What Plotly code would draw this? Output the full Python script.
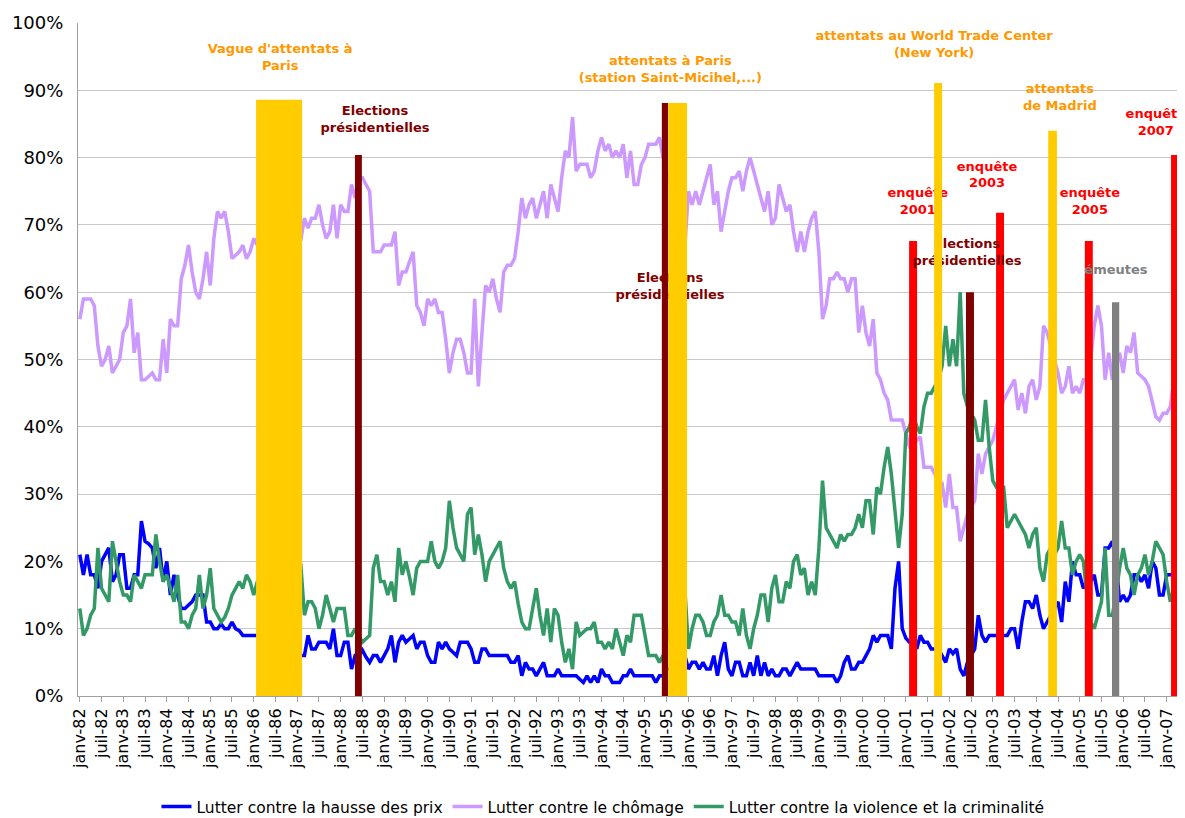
import plotly.graph_objects as go

# ---------------- data (monthly, janv-82 .. mai-07) ----------------
prix = [
    21, 18, 21, 18, 18, 16, 20, 21, 22, 17,
    18, 21, 21, 16, 16, 18, 18, 26, 23, 22.6,
    22, 19, 22, 17, 20, 15, 18, 15, 13, 13,
    13.5, 14, 15, 15, 15, 11, 11, 10, 10, 10.7,
    10, 10, 11, 10, 9.7, 9, 9, 9, 9, 9,
    9, 9, 9, 8, 8, 8, 8, 7, 7, 7,
    6, 6, 6, 9, 7, 7, 8, 8, 8, 7,
    10, 6, 6, 8, 8, 4, 6, 6, 6.8, 5.8,
    5, 6, 6, 5, 6, 7, 9, 5, 8, 9,
    8, 8.5, 9, 7, 8, 8, 6, 5, 5, 8,
    7, 8, 7, 6.5, 6, 8, 8, 8, 7, 5,
    5, 7, 7, 6, 6, 6, 6, 6, 6, 5,
    5, 6, 3, 5, 4, 4, 3, 4, 5, 3,
    3, 3, 4, 3, 3, 3, 3, 3, 2.5, 2,
    3, 2, 3, 2, 4, 3, 3, 2, 2, 2,
    3, 3, 4, 3, 3, 3, 3, 3, 3, 2,
    3, 3, 4, 4, 5, 5, 6, 6, 4, 5,
    5, 4, 5, 4, 4, 6, 3, 6, 8, 4,
    3, 5, 5, 3, 3, 5, 3, 6, 3, 5,
    3, 4, 3, 3, 4, 4, 3, 4, 5, 4,
    4, 4, 4, 4, 3, 3, 3, 3, 3, 2,
    3, 5, 6, 4, 4, 5, 5, 6, 7, 9,
    8, 9, 9, 9, 7, 16, 20, 10, 8.6, 8,
    8, 7, 9, 8, 8, 7, 7, 7, 6, 5,
    7, 6.3, 7, 4, 3, 5, 6, 7, 12, 9,
    8, 9, 9, 9, 9, 9, 9, 10, 10, 7,
    11, 14, 14, 13, 15, 12, 10, 11, 12, 13,
    14, 11, 17, 14, 20, 18, 18, 16, 17, 17,
    18, 15, 15, 22, 22, 23, 20, 14, 15, 14,
    15, 18, 18, 17, 18, 16, 20, 19, 15, 15,
    18, 18, 18, 18, 19,
]

chomage = [
    56, 59, 59, 59, 58, 52, 49, 50, 52, 48,
    49, 50, 54, 55, 59, 51, 54, 47, 47, 47.5,
    48, 47, 47, 53, 48, 56, 55, 55, 62, 64,
    67, 63, 60, 59, 62, 66, 61, 68, 72, 71,
    72, 69, 65, 65.5, 66, 67, 65, 66, 68, 67,
    66, 68, 67, 69, 68, 67, 66, 68, 67, 68,
    67, 67.7, 71, 69.5, 71, 71, 73, 70, 68, 69,
    73, 68, 73, 72, 72, 76, 74, 77, 77, 76,
    75, 66, 66, 66, 67, 67, 67, 69, 61, 63,
    63, 64.5, 66, 58, 57, 55, 59, 58, 59, 57,
    57, 53, 48, 51, 53, 53, 51, 48, 48, 59,
    46, 54, 61, 60, 62, 59, 57, 63, 64, 64,
    65, 69, 74, 71, 73, 74, 71, 73, 75, 71,
    76, 74, 72, 77, 81, 80, 86, 78, 79, 79,
    79, 77, 78, 81, 83, 81, 82, 80, 81, 80,
    82, 77, 81, 76, 76, 79, 80, 82, 82, 82,
    83, 80, 78, 76, 74, 72, 70, 66.7, 75, 73,
    75, 73, 75, 77, 79, 73, 75, 69, 72, 75,
    77, 77, 78, 75, 78, 80, 78, 76, 74, 72,
    75, 70, 71, 76, 74, 72, 73, 69, 66, 69,
    66, 69, 71, 72, 66, 56, 58, 62, 62, 63,
    62, 62, 60, 62, 62, 54, 58, 54, 52, 56,
    48, 47, 45, 44, 41, 41, 41, 41, 39, 37,
    37, 38, 38.5, 34, 34, 34, 33, 32, 31.6, 28,
    33, 28, 28, 23, 25, 27, 28, 29, 36, 33,
    36, 37, 38, 40, 42, 44, 45, 46, 47, 42.5,
    45, 42, 46, 47, 44, 46, 55, 54, 52, 50,
    48, 45, 46, 49, 45, 46, 45, 47, 47, 50,
    55, 58, 55, 47, 51, 47, 49, 51, 48, 52,
    51, 54, 48, 47.5, 47, 46, 44, 41.5, 41, 42,
    42, 43, 47, 45, 41,
]

violence = [
    13, 9, 10, 12, 13, 22, 16, 15, 14, 23,
    20, 17, 15, 15, 14, 18, 17, 16, 18, 18,
    18, 24, 20, 17, 18, 16, 14, 18, 11, 11,
    10, 12, 13, 18, 13, 15, 19, 13, 12, 11,
    11.7, 13, 15, 16, 17, 16, 18, 17, 15, 17,
    18, 17, 16, 17, 18, 17, 16, 17, 18, 19,
    20, 19.5, 12, 14, 14, 13, 10, 12, 15, 13,
    11, 13, 13, 13, 9, 9, 10, 9, 8, 8.5,
    9, 19, 21, 17, 17, 15, 17, 14, 22, 18,
    20, 17.7, 15, 19, 20, 20, 20, 23, 20, 19,
    20, 22, 29, 25, 22, 21, 20, 27, 28, 21,
    24, 21, 17, 20, 21, 22, 23, 19, 17, 16,
    17, 13.7, 11, 10, 10, 13, 16, 12, 9, 13,
    8, 13, 12, 8, 5, 7, 4, 11, 9, 9.5,
    10, 10, 11, 8, 8, 7, 8, 7, 10, 8,
    6, 9, 8, 12, 12, 12, 9, 6, 6, 6,
    5, 6, 8, 10, 12, 14, 15, 16, 7, 10,
    12, 12, 11, 9, 9, 11, 12, 15, 12, 12,
    11, 11, 9, 13, 9, 7, 10, 12, 15, 15,
    11, 16, 18, 14, 14, 17, 16, 20, 21, 18,
    19, 15, 17, 15, 22, 32, 25, 24, 23, 22,
    24, 23, 24, 24, 25, 27, 25, 29, 29, 24,
    31, 30, 34, 37, 33, 27, 22, 27, 39, 40,
    42, 40, 39, 43, 45, 45, 46, 47, 49, 55,
    49, 53, 49, 60, 45, 43, 42, 41, 38, 38,
    44, 37, 32, 31, 31, 31, 25, 26, 27, 26,
    25, 24, 22, 24, 25, 19, 17, 21, 22, 21,
    22, 26, 22, 22, 18, 20, 21, 20, 15, 11,
    10, 12, 14, 22, 12, 12, 15, 19, 22, 19,
    18, 15, 18, 19, 21, 18, 20, 23, 22, 21,
    17, 14, 16, 18, 18,
]

series_names = ["Lutter contre la hausse des prix",
                "Lutter contre le chômage",
                "Lutter contre la violence et la criminalité"]
series_colors = ["#0000FF", "#CC99FF", "#339966"]

# tick labels every 6 months
tick_labels = []
for yr in range(1982, 2008):
    tick_labels += [f"janv-{yr % 100:02d}", f"juil-{yr % 100:02d}"]
tick_labels = tick_labels[:51]
tick_pos = [6 * k for k in range(len(tick_labels))]

# event columns (month index of centre, width in months, height in %)
event_kind = ["attentat", "election", "election", "attentat", "enquete", "attentat",
              "election", "enquete", "attentat", "enquete", "emeutes", "enquete"]
event_month = [55, 76.9, 161.5, 165.0, 230.0, 236.9, 245.7, 254.0, 268.5, 278.5, 285.9, 302.3]
event_width = [12.7, 1.9, 1.7, 5.2, 2.2, 2.2, 2.2, 2.2, 2.4, 2.2, 2.0, 2.2]
event_height = [88.6, 80.4, 88.1, 88.1, 67.6, 91.1, 60.0, 71.8, 84.0, 67.6, 58.5, 80.4]
kind_color = {"attentat": "#FFCC00", "election": "#800000",
              "enquete": "#FF0000", "emeutes": "#808080"}

# event labels
label_text = ["Vague d'attentats à<br>Paris", "Elections<br>présidentielles",
              "attentats à Paris<br>(station Saint-Micihel,...)", "Elections<br>présidentielles",
              "attentats au World Trade Center<br>(New York)", "attentats<br>de Madrid",
              "enquête<br>2001", "enquête<br>2003", "Elections<br>présidentielles",
              "enquête<br>2005", "émeutes", "enquête<br>2007"]
label_x = [55.3, 81.5, 163.0, 162.9, 235.8, 270.5, 231.3, 250.4, 244.9, 278.8, 286.0, 297.0]
label_y = [94.8, 85.6, 93.0, 60.7, 96.7, 88.8, 73.3, 77.3, 65.8, 73.3, 63.2, 85.1]
label_color = ["#FF9900", "#800000", "#FF9900", "#800000", "#FF9900", "#FF9900",
               "#FF0000", "#FF0000", "#800000", "#FF0000", "#808080", "#FF0000"]

FONT = "DejaVu Sans"

fig = go.Figure()
for vals, name, col in zip([prix, chomage, violence], series_names, series_colors):
    fig.add_trace(go.Scatter(x=list(range(len(vals))), y=vals, mode="lines", name=name,
                             line=dict(color=col, width=3.5), hoverinfo="skip"))


def add_events(kinds):
    for k, m, w, h in zip(event_kind, event_month, event_width, event_height):
        if k not in kinds:
            continue
        c = kind_color[k]
        fig.add_trace(go.Scatter(x=[m - w / 2, m - w / 2, m + w / 2, m + w / 2, m - w / 2],
                                 y=[0, h, h, 0, 0], mode="lines", fill="toself",
                                 fillcolor=c, line=dict(width=0, color=c),
                                 showlegend=False, hoverinfo="skip"))


# survey / riot columns lie under the texts, attack / election columns over them
add_events({"enquete", "emeutes"})

fig.add_trace(go.Scatter(x=label_x, y=label_y, mode="text", text=label_text,
                         textposition="middle center", showlegend=False, hoverinfo="skip",
                         textfont=dict(family=FONT, size=13, color=label_color, weight="bold"),
                         cliponaxis=False))

add_events({"attentat", "election"})

fig.update_layout(
    width=1177, height=810,
    margin=dict(l=70, r=2, t=15, b=122, autoexpand=False),
    paper_bgcolor="white", plot_bgcolor="white",
    font=dict(family=FONT, color="black"),
    showlegend=True,
    legend=dict(orientation="h", x=0.071, xanchor="left", y=-0.165, yanchor="middle",
                font=dict(family=FONT, size=15.5), itemwidth=30, traceorder="normal"),
    xaxis=dict(range=[-0.5, 304.5], tickmode="array", tickvals=tick_pos, ticktext=tick_labels,
               tickangle=-90, ticks="outside", ticklen=5, tickcolor="#A0A0A0",
               tickfont=dict(family=FONT, size=16), showgrid=False, zeroline=False,
               showline=True, linecolor="#A0A0A0", linewidth=1, automargin=False),
    yaxis=dict(range=[0, 100], tickmode="array", tickvals=list(range(0, 101, 10)),
               ticktext=[f"{v}%" for v in range(0, 101, 10)],
               tickfont=dict(family=FONT, size=18), showgrid=True, gridcolor="#C8C8C8",
               gridwidth=1, zeroline=False, showline=True, linecolor="#A0A0A0", linewidth=1,
               ticks="", ticklabelstandoff=10, automargin=False),
)

fig.write_html("out.html")
